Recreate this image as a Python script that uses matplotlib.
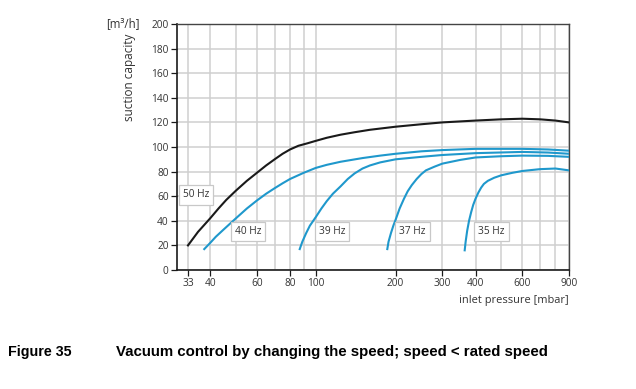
import matplotlib
matplotlib.use("Agg")
import matplotlib.pyplot as plt
from matplotlib.ticker import FixedLocator, NullFormatter

# ---- data ----
p50 = [33, 36, 40, 43, 46, 50, 55, 60, 65, 70, 75, 80, 86, 93, 100, 110, 124, 140, 160,
       200, 250, 300, 400, 500, 600, 700, 800, 900]
v50 = [20, 31, 42, 50, 57, 64.5, 72.5, 79, 85, 90, 94.5, 98, 101, 103, 105, 107.5, 110, 112, 114,
       116.5, 118.5, 120, 121.5, 122.5, 123, 122.5, 121.5, 120]

p40 = [38, 40, 42, 45, 50, 55, 60, 65, 70, 75, 80, 90, 100, 110, 124, 150, 175, 200, 250,
       300, 400, 600, 750, 900]
v40 = [17, 22, 27, 33, 42, 50, 56.5, 62, 66.5, 70.5, 74, 79, 83, 85.5, 88, 91, 93, 94.5, 96.5,
       97.5, 98.5, 98.5, 98, 97]

p39 = [87, 89, 92, 95, 100, 105, 110, 116, 124, 132, 140, 150, 160, 175, 200, 250, 300, 400,
       600, 750, 900]
v39 = [17, 23, 30, 36, 43, 50, 56, 62, 68, 74, 78.5, 82.5, 85, 87.5, 90, 92, 93.5, 95,
       96, 95.5, 94.5]

p37 = [186, 188, 192, 196, 200, 207, 215, 222, 230, 240, 250, 260, 280, 300, 350, 400, 500,
       600, 750, 900]
v37 = [17, 23, 30, 36, 41, 50, 58, 64, 69, 74, 78, 81, 84, 86.5, 89.5, 91.5, 92.5,
       93, 92.8, 92]

p35 = [364, 367, 372, 378, 385, 392, 400, 410, 420, 430, 445, 470, 500, 550, 600, 700, 800, 900]
v35 = [16, 23, 32, 40, 47, 53, 58, 63, 67, 70, 72.5, 75, 77, 79, 80.5, 82, 82.5, 81]

curve_labels = ["50 Hz", "40 Hz", "39 Hz", "37 Hz", "35 Hz"]
label_x = [35.4, 55.6, 115, 231, 459]
label_y = [61, 31, 31, 31, 31]

xticks = [33, 40, 60, 80, 100, 200, 300, 400, 600, 900]
xgrid_minor = [50, 70, 90, 500, 700, 800]
yticks = list(range(0, 201, 20))

black = "#1a1a1a"
blue = "#1f98cc"
txt = "#333333"

plt.rcParams['font.family'] = ['Open Sans', 'DejaVu Sans']

fig = plt.figure(figsize=(6.36, 3.89), dpi=100)
ax = fig.add_axes([0.2783, 0.3059, 0.6164, 0.6324])
ax.set_xscale('log')
ax.set_xlim(30, 900)
ax.set_ylim(0, 200)

ax.plot(p50, v50, color=black, lw=1.5, zorder=3, solid_joinstyle='round')
for p, v in [(p40, v40), (p39, v39), (p37, v37), (p35, v35)]:
    ax.plot(p, v, color=blue, lw=1.5, zorder=3, solid_joinstyle='round')

for s, x, y in zip(curve_labels, label_x, label_y):
    ax.text(x, y, s, ha='center', va='center', fontsize=7.3, color=txt, zorder=4,
            bbox=dict(boxstyle='square,pad=0.4', fc='white', ec='#c8c8c8', lw=0.9))

ax.xaxis.set_major_locator(FixedLocator(xticks))
ax.set_xticklabels([str(t) for t in xticks])
ax.xaxis.set_minor_locator(FixedLocator(xgrid_minor))
ax.xaxis.set_minor_formatter(NullFormatter())
ax.set_yticks(yticks)

ax.grid(True, which='both', color='#cfcfcf', lw=1.1, zorder=0)
ax.set_axisbelow(True)
ax.tick_params(axis='both', which='major', direction='out', length=4, width=0.9,
               labelsize=7.3, colors=txt, pad=2)
ax.tick_params(axis='x', which='minor', length=0)
ax.tick_params(axis='x', which='major', color=black)
ax.tick_params(axis='y', which='major', color=black)
for sp in ['left', 'bottom']:
    ax.spines[sp].set_color(black)
    ax.spines[sp].set_linewidth(1.2)
for sp in ['top', 'right']:
    ax.spines[sp].set_color('#444444')
    ax.spines[sp].set_linewidth(1.0)

fig.text(130 / 636, 1 - 77 / 389, 'suction capacity', rotation=90, ha='center', va='center',
         fontsize=8.5, color=txt)
fig.text(123 / 636, 1 - 24 / 389, '[m³/h]', ha='center', va='center', fontsize=8.3, color=txt)
fig.text(569 / 636, 1 - 300 / 389, 'inlet pressure [mbar]', ha='right', va='center',
         fontsize=7.9, color=txt)

fig.text(8 / 636, 1 - 352 / 389, 'Figure 35', ha='left', va='center', fontsize=10.3,
         fontweight='bold', family=['Liberation Sans', 'DejaVu Sans'], color='black')
fig.text(116 / 636, 1 - 352 / 389, 'Vacuum control by changing the speed; speed < rated speed',
         ha='left', va='center', fontsize=10.8, fontweight='bold',
         family=['Liberation Sans', 'DejaVu Sans'], color='black')

fig.savefig('out.png', dpi=100, facecolor='white')
